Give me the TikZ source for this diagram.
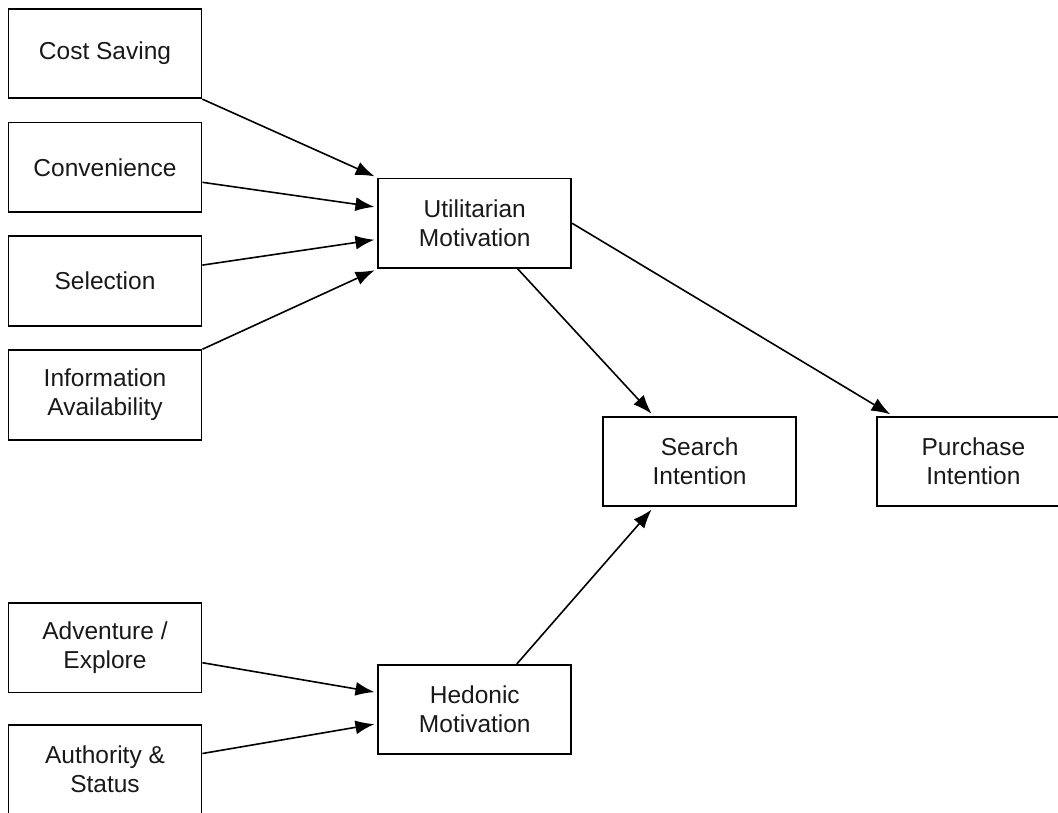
\documentclass[tikz,border=0pt]{standalone}
\usepackage{fontspec}
\setmainfont{Liberation Sans}
\usetikzlibrary{arrows.meta,positioning}

\begin{document}
\begin{tikzpicture}[
    x=1pt, y=1pt,
    node distance=22.5pt,
    box/.style={rectangle, draw, line width=1.8pt, minimum width=193pt, minimum height=89.5pt, align=center, font=\fontsize{24.5}{29}\selectfont, text=black!90},
    arrow/.style={-{Latex[length=19pt,width=14pt]}, line width=1.6pt, shorten >=3pt},
]
\useasboundingbox (0,0) rectangle (1058,-812);

% Utilitarian antecedents
\node[box] (cost) at (105,-53.5) {Cost Saving};
\node[box, below=of cost] (conv) {Convenience};
\node[box, below=of conv] (sel) {Selection};
\node[box, below=of sel] (info) {Information\\Availability};

% Hedonic antecedents
\node[box, below=161.5pt of info] (adv) {Adventure /\\Explore};
\node[box, below=30.5pt of adv] (auth) {Authority \&\\Status};

% Motivations
\node[box, right=175pt of conv, yshift=-56pt] (util) {Utilitarian\\Motivation};
\node[box, below=395pt of util] (hed) {Hedonic\\Motivation};

% Intentions
\node[box, below right=147pt and 30pt of util] (search) {Search\\Intention};
\node[box, right=79pt of search] (purch) {Purchase\\Intention};

% Arrows
\draw[arrow] (cost.south east) -- (util.north west);
\draw[arrow] ([yshift=-15pt]conv.east) -- ([yshift=16pt]util.west);
\draw[arrow] ([yshift=16pt]sel.east) -- ([yshift=-16pt]util.west);
\draw[arrow] (info.north east) -- (util.south west);
\draw[arrow] ([yshift=-15pt]adv.east) -- ([yshift=17pt]hed.west);
\draw[arrow] ([yshift=16pt]auth.east) -- ([yshift=-14pt]hed.west);
\draw[arrow] ([xshift=43pt]util.south) -- ([xshift=-46pt]search.north);
\draw[arrow] ([xshift=42pt]hed.north) -- ([xshift=-46pt]search.south);
\draw[arrow] (util.east) -- ([xshift=17pt]purch.north west);

\end{tikzpicture}
\end{document}
